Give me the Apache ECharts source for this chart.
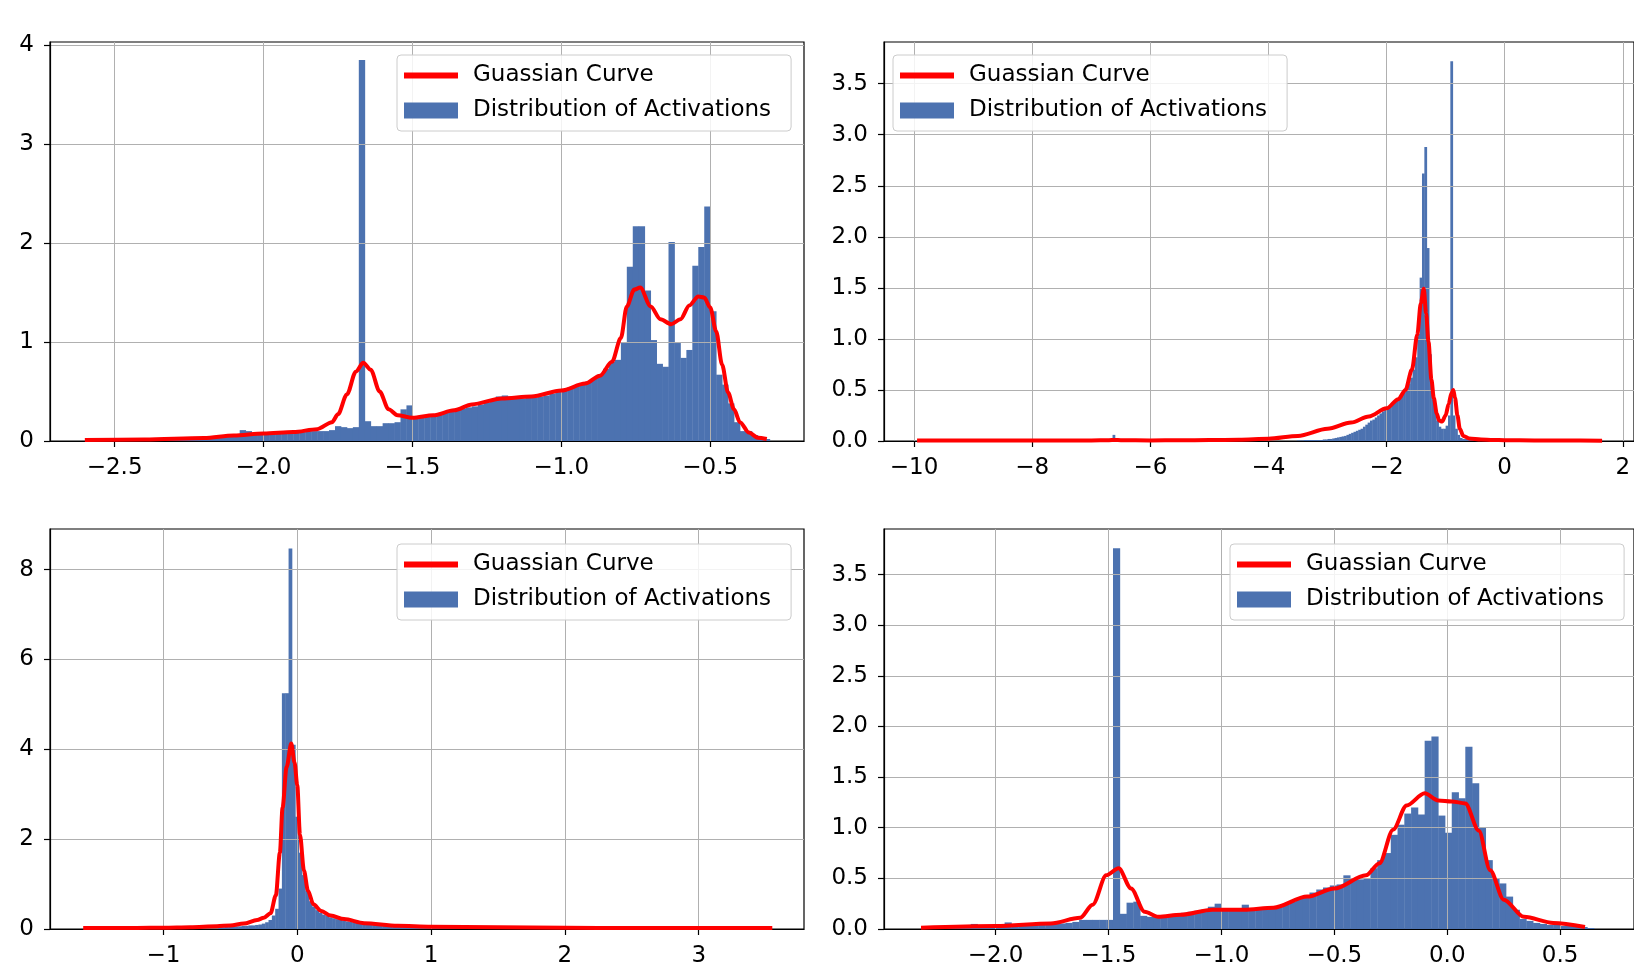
<!DOCTYPE html>
<html>
<head>
<meta charset="utf-8">
<title>Distribution of Activations</title>
<script src="https://cdn.jsdelivr.net/npm/echarts/dist/echarts.min.js"></script>
<style>
  html, body { margin: 0; padding: 0; background: #fff; }
  #main { width: 1634px; height: 977px; }
</style>
</head>
<body>
<div id="main"></div>
<script>
// ---------- top left ----------
var tlBinStart = -2.6;
var tlBinWidth = 0.02;
var tlHeights = [
  0.01, 0.01, 0.01, 0.01, 0.01, 0.01, 0.01, 0.01, 0.01, 0.01,
  0.01, 0.01, 0.015, 0.015, 0.02, 0.02, 0.02, 0.025, 0.025, 0.03,
  0.03, 0.035, 0.04, 0.045, 0.05, 0.06, 0.11, 0.1, 0.07, 0.08,
  0.08, 0.08, 0.08, 0.09, 0.09, 0.09, 0.09, 0.1, 0.1, 0.1,
  0.1, 0.11, 0.15, 0.14, 0.13, 0.14, 3.85, 0.2, 0.15, 0.15,
  0.18, 0.18, 0.19, 0.32, 0.36, 0.25, 0.25, 0.26, 0.27, 0.28,
  0.29, 0.3, 0.32, 0.33, 0.34, 0.35, 0.37, 0.39, 0.42, 0.45,
  0.46, 0.45, 0.43, 0.43, 0.44, 0.44, 0.45, 0.46, 0.48, 0.5,
  0.52, 0.54, 0.56, 0.58, 0.6, 0.63, 0.67, 0.73, 0.8, 0.82,
  0.99, 1.76, 2.17, 2.17, 1.52, 1.02, 0.78, 0.75, 2.01, 0.99,
  0.84, 0.92, 1.77, 1.96, 2.37, 1.31, 0.67, 0.57, 0.38, 0.19,
  0.1, 0.1, 0.06, 0.03, 0.02
];
var tlCurveX = [-2.6, -2.4, -2.2, -2.1, -2.0, -1.9, -1.82, -1.77, -1.75, -1.72, -1.69, -1.665, -1.64, -1.61, -1.58,
  -1.55, -1.5, -1.43, -1.36, -1.3, -1.2, -1.1, -1.0, -0.92, -0.87, -0.83, -0.8, -0.78, -0.755, -0.735,
  -0.7, -0.667, -0.631, -0.6, -0.57, -0.54, -0.52, -0.5, -0.48, -0.46, -0.44, -0.42, -0.4, -0.37, -0.34, -0.31];
var tlCurveY = [0.01, 0.015, 0.03, 0.055, 0.075, 0.09, 0.12, 0.19, 0.27, 0.47, 0.7, 0.79, 0.72, 0.5, 0.32,
  0.26, 0.235, 0.26, 0.31, 0.37, 0.43, 0.45, 0.51, 0.58, 0.66, 0.8, 1.04, 1.36, 1.53, 1.55,
  1.36, 1.23, 1.18, 1.23, 1.37, 1.46, 1.45, 1.35, 1.11, 0.77, 0.49, 0.32, 0.19, 0.085, 0.034, 0.02];
var tlTicksX = [-2.5, -2.0, -1.5, -1.0, -0.5];
var tlTicksY = [0, 1, 2, 3, 4];

// ---------- top right ----------
var trBinStart = -3.6;
var trBinWidth = 0.04;
var trHeights = [
  0, 0, 0.005, 0.005, 0.005, 0.01, 0.01, 0.01, 0.01, 0.01,
  0.01, 0.01, 0.01, 0.015, 0.015, 0.02, 0.02, 0.025, 0.03, 0.035,
  0.04, 0.045, 0.05, 0.06, 0.07, 0.08, 0.09, 0.1, 0.11, 0.12,
  0.14, 0.16, 0.18, 0.2, 0.21, 0.23, 0.25, 0.27, 0.29, 0.31,
  0.32, 0.34, 0.36, 0.38, 0.4, 0.42, 0.45, 0.48, 0.52, 0.56,
  0.62, 0.7, 0.82, 1.05, 1.6, 2.62, 2.88, 1.89, 0.85, 0.45,
  0.3, 0.2, 0.14, 0.12, 0.12, 0.15, 0.25, 3.72, 0.25, 0.12,
  0.06, 0.03, 0.02, 0.02, 0.01, 0.01, 0.01, 0.005, 0.005, 0.005
];
var trOutlierStart = -6.64;
var trOutlierHeights = [0.06];
var trCurveX = [-9.95, -9, -8, -7, -6.7, -6.6, -6.5, -6, -5.5, -5, -4.5, -4, -3.5, -3, -2.6,
  -2.3, -2.0, -1.8, -1.68, -1.57, -1.48, -1.42, -1.37, -1.33, -1.29, -1.24, -1.2, -1.15, -1.11, -1.06,
  -1.0, -0.95, -0.9, -0.87, -0.84, -0.8, -0.76, -0.7, -0.6, -0.4, -0.2, 0, 0.5, 1, 1.65];
var trCurveY = [0.005, 0.005, 0.005, 0.006, 0.008, 0.01, 0.008, 0.006, 0.007, 0.009, 0.013, 0.022, 0.05, 0.12, 0.18,
  0.24, 0.32, 0.41, 0.5, 0.7, 1.04, 1.35, 1.49, 1.25, 0.97, 0.6, 0.42, 0.27, 0.2, 0.19,
  0.25, 0.36, 0.47, 0.5, 0.42, 0.25, 0.12, 0.05, 0.025, 0.015, 0.01, 0.008, 0.005, 0.004, 0.003];
var trTicksX = [-10, -8, -6, -4, -2, 0, 2];
var trTicksY = [0, 0.5, 1, 1.5, 2, 2.5, 3, 3.5];

// ---------- bottom left ----------
var blBinStart = -0.59;
var blBinWidth = 0.025;
var blHeights = [
  0.04, 0.04, 0.05, 0.05, 0.05, 0.06, 0.06, 0.07,
  0.07, 0.08, 0.08, 0.09,
  0.1, 0.12, 0.15, 0.2,
  0.3, 0.45, 0.9,
  5.25, 5.25, 8.47, 4.1, 2.5,
  1.7, 1.2, 0.85, 0.62, 0.5, 0.42,
  0.36, 0.32, 0.29, 0.26, 0.24, 0.22, 0.2, 0.18, 0.17, 0.16, 0.15,
  0.14, 0.13, 0.12, 0.11, 0.1, 0.1, 0.09, 0.09, 0.08, 0.08, 0.07, 0.07,
  0.06, 0.06, 0.06, 0.05, 0.05, 0.05, 0.05, 0.04, 0.04, 0.04, 0.04, 0.04, 0.04, 0.04, 0.04, 0.04, 0.04, 0.04, 0.04
];
var blCurveX = [-1.6, -1.2, -1.0, -0.8, -0.6, -0.5, -0.4, -0.3, -0.25, -0.2, -0.16, -0.13, -0.11, -0.08, -0.045, -0.02,
  0.0, 0.02, 0.05, 0.08, 0.12, 0.18, 0.25, 0.35, 0.5, 0.75, 1.0, 1.5, 2.0, 2.5, 3.0, 3.55];
var blCurveY = [0.02, 0.025, 0.03, 0.04, 0.06, 0.08, 0.12, 0.2, 0.25, 0.35, 0.75, 1.7, 2.7, 3.6, 4.13, 3.7,
  3.2, 2.1, 1.3, 0.85, 0.55, 0.4, 0.3, 0.22, 0.13, 0.07, 0.05, 0.04, 0.03, 0.02, 0.02, 0.02];
var blTicksX = [-1, 0, 1, 2, 3];
var blTicksY = [0, 2, 4, 6, 8];

// ---------- bottom right ----------
var brBinStart = -2.32;
var brBinWidth = 0.03;
var brHeights = [
  0.01, 0.01, 0.015, 0.02, 0.02, 0.02, 0.02, 0.05, 0.025, 0.03,
  0.03, 0.03, 0.065, 0.03, 0.035, 0.04, 0.04, 0.045, 0.05, 0.05,
  0.055, 0.06, 0.07, 0.09, 0.09, 0.09, 0.09, 0.09, 3.76, 0.15,
  0.26, 0.27, 0.13, 0.12, 0.12, 0.13, 0.14, 0.15, 0.16, 0.17,
  0.18, 0.19, 0.22, 0.25, 0.2, 0.19, 0.19, 0.24, 0.19, 0.19,
  0.19, 0.2, 0.22, 0.24, 0.27, 0.3, 0.33, 0.36, 0.39, 0.41,
  0.43, 0.44, 0.53, 0.5, 0.49, 0.5, 0.6, 0.68, 0.75, 0.93,
  1.03, 1.14, 1.2, 1.13, 1.86, 1.9, 1.12, 0.95, 1.35, 1.29,
  1.8, 1.44, 1.0, 0.68, 0.5, 0.45, 0.32, 0.19, 0.1, 0.08,
  0.06, 0.05, 0.04, 0.04, 0.03, 0.03, 0.02, 0.02, 0.01
];
var brCurveX = [-2.33, -2.0, -1.755, -1.626, -1.57, -1.51, -1.455, -1.4, -1.34, -1.28, -1.18, -1.04, -0.9, -0.77, -0.62,
  -0.5, -0.36, -0.3, -0.24, -0.18, -0.1, -0.04, 0.02, 0.08, 0.14, 0.19, 0.25, 0.34, 0.47, 0.61];
var brCurveY = [0.013, 0.03, 0.055, 0.11, 0.24, 0.53, 0.6, 0.4, 0.17, 0.12, 0.14, 0.19, 0.19, 0.21, 0.32,
  0.4, 0.53, 0.65, 0.98, 1.22, 1.34, 1.27, 1.26, 1.24, 0.97, 0.58, 0.29, 0.12, 0.06, 0.02];
var brTicksX = [-2.0, -1.5, -1.0, -0.5, 0.0, 0.5];
var brTicksY = [0, 0.5, 1, 1.5, 2, 2.5, 3, 3.5];

var curveName = 'Guassian Curve';
var histName = 'Distribution of Activations';

function binsToData(start, width, heights) {
  return heights.map(function (h, i) {
    var x0 = start + i * width;
    return [x0, x0 + width, h];
  });
}
function zip(xs, ys) {
  return xs.map(function (x, i) { return [x, ys[i]]; });
}
function fmt(dec) {
  return function (v) { return v.toFixed(dec).replace('-', '\u2212'); };
}

var panels = [
  { bins: binsToData(tlBinStart, tlBinWidth, tlHeights), curve: zip(tlCurveX, tlCurveY),
    xMin: -2.717, xMax: -0.185, yMax: 4.032, xTicks: tlTicksX, yTicks: tlTicksY, xDec: 1, yDec: 0,
    left: 50, top: 42, height: 399, legendLeft: 397, legendTop: 55 },
  { bins: binsToData(trBinStart, trBinWidth, trHeights).concat(binsToData(trOutlierStart, trBinWidth, trOutlierHeights)),
    curve: zip(trCurveX, trCurveY),
    xMin: -10.51, xMax: 2.19, yMax: 3.908, xTicks: trTicksX, yTicks: trTicksY, xDec: 0, yDec: 1,
    left: 884, top: 42, height: 399, legendLeft: 893, legendTop: 55 },
  { bins: binsToData(blBinStart, blBinWidth, blHeights), curve: zip(blCurveX, blCurveY),
    xMin: -1.848, xMax: 3.787, yMax: 8.906, xTicks: blTicksX, yTicks: blTicksY, xDec: 0, yDec: 0,
    left: 50, top: 529, height: 400, legendLeft: 397, legendTop: 544 },
  { bins: binsToData(brBinStart, brBinWidth, brHeights), curve: zip(brCurveX, brCurveY),
    xMin: -2.494, xMax: 0.827, yMax: 3.95, xTicks: brTicksX, yTicks: brTicksY, xDec: 1, yDec: 1,
    left: 884, top: 529, height: 400, legendLeft: 1230, legendTop: 544 }
];

function renderBin(params, api) {
  var a = api.coord([api.value(0), api.value(2)]);
  var b = api.coord([api.value(1), 0]);
  return {
    type: 'rect',
    shape: { x: a[0], y: a[1], width: b[0] - a[0] + 0.4, height: b[1] - a[1] },
    style: { fill: api.visual('color') }
  };
}

// thick short bar used as the legend handle of the curve (bounds padded to the item box)
var lineHandle = 'path://M0,0 M0,5 L54,5 L54,11 L0,11 Z M54,16';

var myChart = echarts.init(document.getElementById('main'));
var option = {
  animation: false,
  backgroundColor: '#fff',
  textStyle: { fontFamily: 'DejaVu Sans' },
  grid: [], xAxis: [], yAxis: [], legend: [], series: []
};

panels.forEach(function (p, i) {
  option.grid.push({
    left: p.left, top: p.top, width: 754, height: p.height,
    show: true, borderColor: '#000', borderWidth: 1.2, backgroundColor: 'transparent'
  });
  option.xAxis.push({
    type: 'value', gridIndex: i, min: p.xMin, max: p.xMax, z: 3,
    axisLine: { show: true, onZero: false, lineStyle: { color: '#000', width: 1.2 } },
    axisTick: { show: true, customValues: p.xTicks, length: 6, lineStyle: { color: '#000', width: 1.2 } },
    axisLabel: { customValues: p.xTicks, margin: 16, fontSize: 23, color: '#000', formatter: fmt(p.xDec) },
    splitLine: { show: true, lineStyle: { color: '#b0b0b0', width: 1 } }
  });
  option.yAxis.push({
    type: 'value', gridIndex: i, min: 0, max: p.yMax, z: 3,
    axisLine: { show: true, onZero: false, lineStyle: { color: '#000', width: 1.2 } },
    axisTick: { show: true, customValues: p.yTicks, length: 6, lineStyle: { color: '#000', width: 1.2 } },
    axisLabel: { customValues: p.yTicks, margin: 16, fontSize: 23, color: '#000', formatter: fmt(p.yDec) },
    splitLine: { show: true, lineStyle: { color: '#b0b0b0', width: 1 } }
  });
  option.legend.push({
    left: p.legendLeft, top: p.legendTop, orient: 'vertical', z: 10,
    data: [{ name: curveName, icon: lineHandle }, { name: histName, icon: 'rect' }],
    itemWidth: 54, itemHeight: 16, itemGap: 12,
    padding: [9, 20, 9, 7],
    backgroundColor: 'rgba(255,255,255,0.85)', borderColor: '#cccccc', borderWidth: 1, borderRadius: 4,
    itemStyle: { borderWidth: 0 },
    selectedMode: false,
    textStyle: { fontSize: 23, color: '#000', fontFamily: 'DejaVu Sans', padding: [0, 0, 0, 10] }
  });
  option.series.push({
    type: 'custom', name: histName, xAxisIndex: i, yAxisIndex: i,
    renderItem: renderBin, data: p.bins, encode: { x: [0, 1], y: 2 },
    itemStyle: { color: '#4c72b0' }, z: 2, clip: true
  });
  option.series.push({
    type: 'line', name: curveName, xAxisIndex: i, yAxisIndex: i,
    data: p.curve, smooth: 0.3, smoothMonotone: 'x', symbol: 'none',
    lineStyle: { color: '#ff0000', width: 4 }, itemStyle: { color: '#ff0000' }, z: 5
  });
});

myChart.setOption(option);
</script>
</body>
</html>
